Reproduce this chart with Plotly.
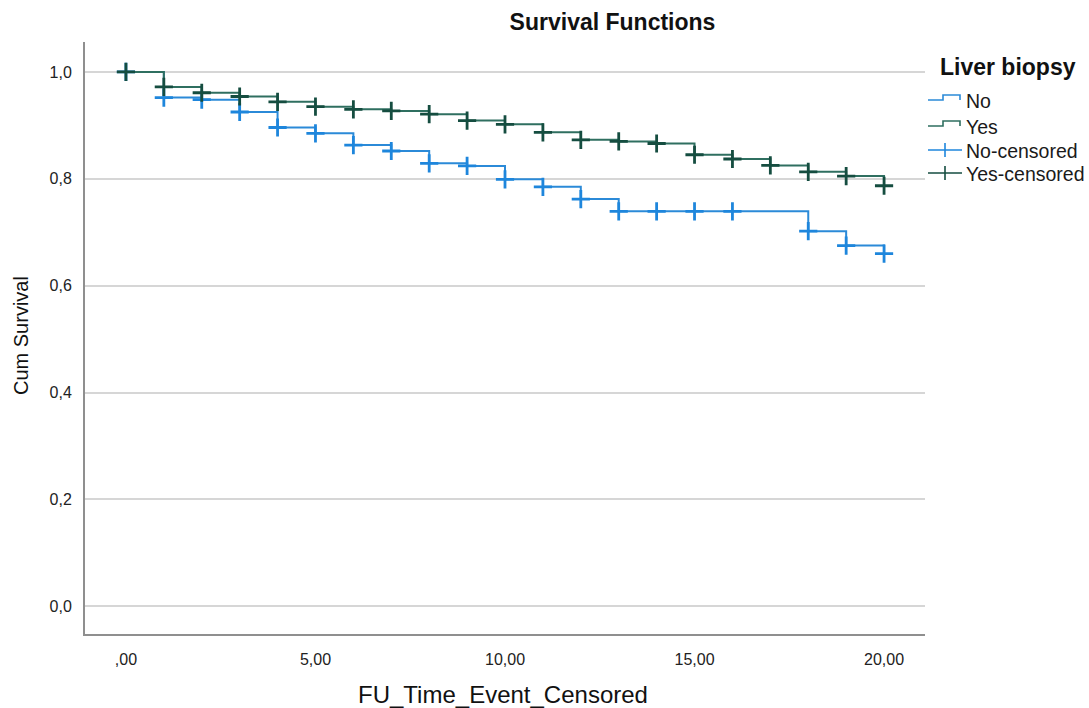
import plotly.graph_objects as go

# ---------------- data ----------------
times = list(range(21))
surv_no = [1.0, 0.952, 0.948, 0.925, 0.896, 0.885, 0.863, 0.852, 0.829, 0.824, 0.799,
           0.785, 0.762, 0.739, 0.739, 0.739, 0.739, 0.739, 0.702, 0.675, 0.660]
surv_yes = [1.0, 0.972, 0.961, 0.954, 0.944, 0.935, 0.930, 0.927, 0.921, 0.909, 0.902,
            0.887, 0.873, 0.870, 0.866, 0.845, 0.837, 0.825, 0.813, 0.805, 0.787]
cens_no_times = [0, 1, 2, 3, 4, 5, 6, 7, 8, 9, 10, 11, 12, 13, 14, 15, 16, 18, 19, 20]
cens_yes_times = list(range(21))
x_tickvals = [0, 5, 10, 15, 20]
x_ticktext = [",00", "5,00", "10,00", "15,00", "20,00"]
y_tickvals = [0, 0.2, 0.4, 0.6, 0.8, 1.0]
y_ticktext = ["0,0", "0,2", "0,4", "0,6", "0,8", "1,0"]
legend_labels = ["No", "Yes", "No-censored", "Yes-censored"]

# ---------------- style ----------------
BLUE_LINE = "#2b8ad8"
BLUE_MARK = "#1e86dc"
GREEN_LINE = "#2f6f60"
GREEN_MARK = "#154d40"
FONT = "Arial, Liberation Sans, sans-serif"

W, H = 1089, 708
L, R, T, B = 85, 164, 42, 74
PW, PH = W - L - R, H - T - B


def px(x):
    return (x - L) / PW


def py(y):
    return (H - B - y) / PH


no_lookup = dict(zip(times, surv_no))
yes_lookup = dict(zip(times, surv_yes))

fig = go.Figure()
fig.add_trace(go.Scatter(x=times, y=surv_no, mode="lines", line=dict(shape="hv", color=BLUE_LINE, width=2),
                         name="No", showlegend=False, hoverinfo="skip"))
fig.add_trace(go.Scatter(x=times, y=surv_yes, mode="lines", line=dict(shape="hv", color=GREEN_LINE, width=2),
                         name="Yes", showlegend=False, hoverinfo="skip"))
fig.add_trace(go.Scatter(x=cens_no_times, y=[no_lookup[t] for t in cens_no_times], mode="markers",
                         marker=dict(symbol="cross-thin", size=13, line=dict(color=BLUE_MARK, width=2.8)),
                         name="No-censored", showlegend=False))
fig.add_trace(go.Scatter(x=cens_yes_times, y=[yes_lookup[t] for t in cens_yes_times], mode="markers",
                         marker=dict(symbol="cross-thin", size=13, line=dict(color=GREEN_MARK, width=2.8)),
                         name="Yes-censored", showlegend=False))

# ---------------- manual legend ----------------
shapes = []
annotations = []
legend_rows = [
    (legend_labels[0], 100, "step", BLUE_LINE),
    (legend_labels[1], 126, "step", GREEN_LINE),
    (legend_labels[2], 150, "cross", BLUE_MARK),
    (legend_labels[3], 173, "cross", GREEN_MARK),
]
for label, yc, kind, col in legend_rows:
    if kind == "step":
        lo, hi = yc, yc - 5
        path = (f"M {px(928)},{py(lo)} L {px(943)},{py(lo)} L {px(943)},{py(hi)} "
                f"L {px(960)},{py(hi)} L {px(960)},{py(lo)}")
        shapes.append(dict(type="path", xref="paper", yref="paper", path=path,
                           line=dict(color=col, width=1.6)))
    else:
        shapes.append(dict(type="line", xref="paper", yref="paper", x0=px(928), x1=px(962),
                           y0=py(yc), y1=py(yc), line=dict(color=col, width=1.6)))
        shapes.append(dict(type="line", xref="paper", yref="paper", x0=px(945), x1=px(945),
                           y0=py(yc - 7), y1=py(yc + 7), line=dict(color=col, width=1.6)))
    annotations.append(dict(text=label, xref="paper", yref="paper", x=px(964), y=py(yc + 1),
                            xanchor="left", yanchor="middle", showarrow=False,
                            font=dict(family=FONT, size=19.5, color="#1a1a1a")))

annotations.append(dict(text="<b>Liver biopsy</b>", xref="paper", yref="paper", x=px(938), y=py(67),
                        xanchor="left", yanchor="middle", showarrow=False,
                        font=dict(family=FONT, size=23, color="#111111")))
annotations.append(dict(text="FU_Time_Event_Censored", xref="paper", yref="paper", x=px(503), y=py(694),
                        xanchor="center", yanchor="middle", showarrow=False,
                        font=dict(family=FONT, size=24, color="#111111")))
annotations.append(dict(text="Cum Survival", xref="paper", yref="paper", x=px(21), y=py(336),
                        xanchor="center", yanchor="middle", showarrow=False, textangle=-90,
                        font=dict(family=FONT, size=20, color="#111111")))

fig.update_layout(
    width=W, height=H,
    margin=dict(l=L, r=R, t=T, b=B),
    paper_bgcolor="white", plot_bgcolor="white",
    title=dict(text="<b>Survival Functions</b>", xref="container", yref="container",
               x=612.5 / W, y=1 - 22 / H, xanchor="center", yanchor="middle",
               font=dict(family=FONT, size=23, color="#111111")),
    shapes=shapes, annotations=annotations,
    showlegend=False,
    font=dict(family=FONT),
)
fig.update_xaxes(range=[-1.08, 21.08], showgrid=False, zeroline=False, showline=True,
                 linecolor="#8f8f8f", linewidth=2, tickvals=x_tickvals, ticktext=x_ticktext,
                 ticks="", ticklabelstandoff=10, tickfont=dict(family=FONT, size=16, color="#222222"))
fig.update_yaxes(range=[-0.052, 1.056], showgrid=True, gridcolor="#d6d6d6", gridwidth=2, zeroline=False,
                 showline=True, linecolor="#8f8f8f", linewidth=2, tickvals=y_tickvals, ticktext=y_ticktext,
                 ticks="", ticklabelstandoff=8, tickfont=dict(family=FONT, size=16, color="#222222"))

fig.write_html("out.html")
